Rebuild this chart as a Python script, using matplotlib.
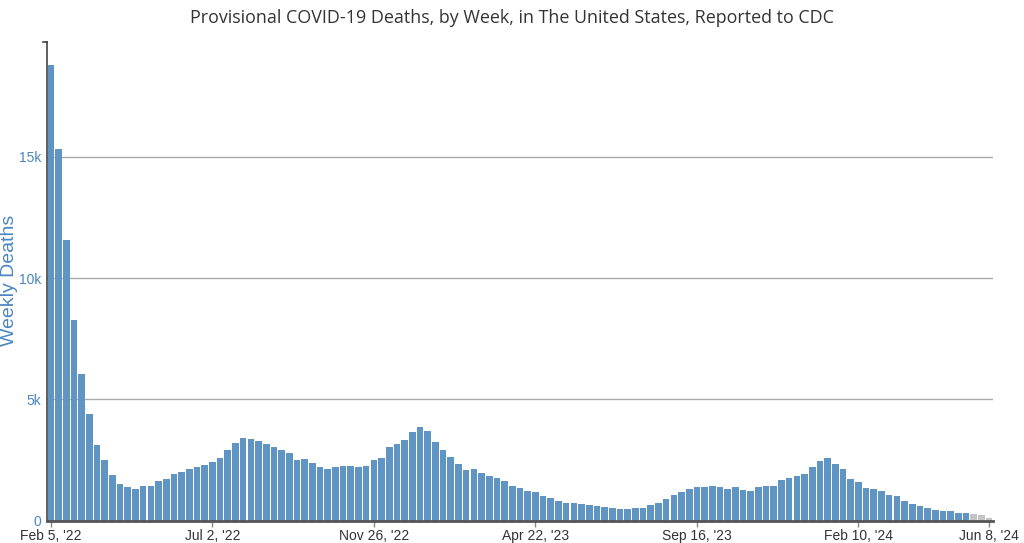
import matplotlib
matplotlib.use("Agg")
import matplotlib.pyplot as plt
from matplotlib.lines import Line2D

# Weekly deaths (thousands), weeks from Feb 5 '22 to Jun 8 '24
deaths_k = [
    18.8, 15.33, 11.57, 8.29, 6.03, 4.38, 3.10, 2.48, 1.89, 1.52,
    1.39, 1.32, 1.42, 1.42, 1.65, 1.72, 1.93, 2.00, 2.12, 2.19,
    2.31, 2.41, 2.59, 2.92, 3.21, 3.39, 3.37, 3.28, 3.15, 3.03,
    2.92, 2.80, 2.50, 2.55, 2.37, 2.19, 2.13, 2.19, 2.23, 2.23,
    2.19, 2.24, 2.48, 2.59, 3.02, 3.17, 3.31, 3.65, 3.86, 3.68,
    3.24, 2.89, 2.62, 2.33, 2.08, 2.13, 1.97, 1.83, 1.75, 1.64,
    1.43, 1.35, 1.20, 1.17, 1.02, 0.92, 0.81, 0.73, 0.72, 0.67,
    0.62, 0.61, 0.57, 0.52, 0.47, 0.48, 0.52, 0.51, 0.65, 0.73,
    0.90, 1.06, 1.17, 1.29, 1.39, 1.39, 1.43, 1.38, 1.29, 1.38,
    1.27, 1.21, 1.38, 1.42, 1.41, 1.69, 1.76, 1.83, 1.92, 2.22,
    2.46, 2.56, 2.34, 2.11, 1.72, 1.58, 1.36, 1.28, 1.23, 1.06,
    1.00, 0.80, 0.70, 0.59, 0.52, 0.45, 0.38, 0.38, 0.30, 0.30,
    0.26, 0.21, 0.11,
]
n_provisional = 3  # last weeks shown in gray
tick_index = [0, 21, 42, 63, 84, 105, 122]
tick_labels = ["Feb 5, '22", "Jul 2, '22", "Nov 26, '22", "Apr 22, '23",
               "Sep 16, '23", "Feb 10, '24", "Jun 8, '24"]
ytick_values = [0, 5000, 10000, 15000]
ytick_labels = ["0", "5k", "10k", "15k"]

values = [v * 1000 for v in deaths_k]
n = len(values)
x = list(range(n))
blue = "#6094c3"
gray = "#c4c4c4"
colors = [blue] * (n - n_provisional) + [gray] * n_provisional

fig = plt.figure(figsize=(10.24, 5.43), dpi=100)
ax = fig.add_axes([47 / 1024, 1 - 520.5 / 543, (993 - 47) / 1024, (520.5 - 42) / 543])

ax.bar(x, values, width=0.86, color=colors, linewidth=0, zorder=2)

ax.set_xlim(-0.5, n - 0.5)
ax.set_ylim(0, max(values) * 1.05)

for v in ytick_values[1:]:
    ax.axhline(v, color="#aaaaaa", linewidth=1.0, zorder=1)

ax.set_yticks(ytick_values)
ax.set_yticklabels(ytick_labels, fontsize=10, color="#4a86c0", family="Liberation Sans")
ax.tick_params(axis="y", length=0, pad=4)

ax.set_xticks(tick_index)
ax.set_xticklabels(tick_labels, fontsize=10, color="#333333", family="Liberation Sans")
ax.tick_params(axis="x", length=4, width=1, color="#888888", pad=2)

for s in ["top", "right"]:
    ax.spines[s].set_visible(False)
ax.spines["left"].set_color("#444444")
ax.spines["left"].set_linewidth(1.2)
ax.spines["bottom"].set_color("#555555")
ax.spines["bottom"].set_linewidth(2)

# small cap at top of y axis
ax.add_line(Line2D([-0.004, 0], [1, 1], transform=ax.transAxes, color="#444444",
                   linewidth=1.2, clip_on=False))

fig.text(9.5 / 1024, 1 - 280 / 543, "Weekly Deaths", rotation=90, ha="center", va="center",
         fontsize=14, color="#4a86c0", family="Liberation Sans")

fig.text(0.5, 1 - 18 / 543, "Provisional COVID-19 Deaths, by Week, in The United States, Reported to CDC",
         ha="center", va="center", fontsize=12.9, color="#333333", family="Open Sans")

fig.savefig("out.png", dpi=100)
